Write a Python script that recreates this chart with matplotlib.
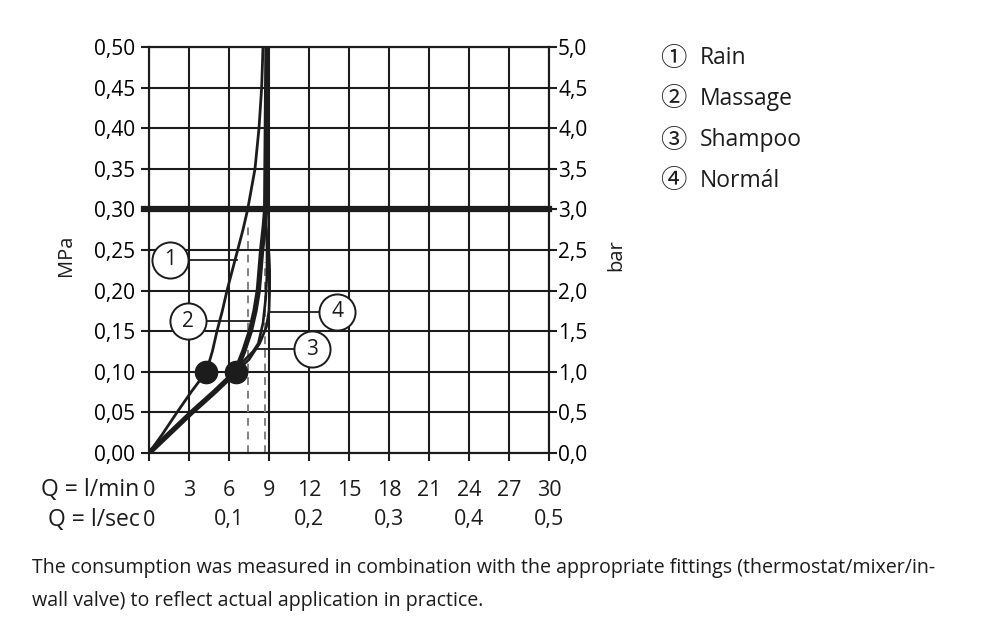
import matplotlib.pyplot as plt
import matplotlib.transforms as mtransforms

plt.rcParams['font.family'] = ['Open Sans', 'DejaVu Sans']

# axis ticks
flow_ticks = [0, 3, 6, 9, 12, 15, 18, 21, 24, 27, 30]
sec_ticks = [0, 6, 12, 18, 24, 30]
sec_labels = ['0', '0,1', '0,2', '0,3', '0,4', '0,5']
mpa_ticks = [0.00, 0.05, 0.10, 0.15, 0.20, 0.25, 0.30, 0.35, 0.40, 0.45, 0.50]
bar_ticks = [0.0, 0.5, 1.0, 1.5, 2.0, 2.5, 3.0, 3.5, 4.0, 4.5, 5.0]

# curves (flow l/min, pressure MPa)
rain_q = [0, 1.0, 2.1, 3.2, 4.3, 4.75, 5.1, 5.5, 5.85, 6.25, 6.65, 7.05, 7.4, 7.95, 8.25, 8.45, 8.55]
rain_p = [0, 0.023, 0.05, 0.076, 0.10, 0.125, 0.15, 0.175, 0.20, 0.225, 0.25, 0.275, 0.30, 0.35, 0.40, 0.45, 0.50]

massage_q = [0, 1.6, 3.2, 4.9, 6.5, 7.1, 7.6, 7.95, 8.2, 8.45, 8.65, 8.75, 8.8, 8.85]
massage_p = [0, 0.025, 0.05, 0.075, 0.10, 0.125, 0.15, 0.175, 0.20, 0.25, 0.28, 0.30, 0.40, 0.50]

shampoo_q = [6.6, 7.2, 7.8, 8.2, 8.55, 8.75, 8.85, 8.85, 8.8, 8.75]
shampoo_p = [0.105, 0.115, 0.125, 0.135, 0.16, 0.19, 0.22, 0.25, 0.28, 0.30]

normal_q = [6.5, 7.5, 8.3, 8.8, 9.0, 9.05, 9.05, 9.0, 8.85, 8.75]
normal_p = [0.10, 0.115, 0.135, 0.155, 0.175, 0.20, 0.225, 0.245, 0.265, 0.28]

# operating points at 0.1 MPa
dot_q = [4.3, 6.5]
dot_p = [0.10, 0.10]

# dashed reference lines
dash_q = [7.4, 8.7]
dash_top = [0.28, 0.235]

# curve number labels: circle position, leader target
lab_text = ['1', '2', '3', '4']
lab_q = [1.6, 2.9, 12.2, 14.1]
lab_p = [0.238, 0.162, 0.128, 0.174]
lab_target = [6.6, 7.55, 8.15, 9.0]

legend_marks = ['①', '②', '③', '④']
legend_names = ['Rain', 'Massage', 'Shampoo', 'Normál']

ink = '#1c1c1c'

fig = plt.figure(figsize=(10, 6.38), dpi=100)
ax = fig.add_axes([0.149, 0.29, 0.4, 0.6364])

ax.set_xlim(0, 30)
ax.set_ylim(0, 0.5)
ax.set_xticks(flow_ticks)
ax.set_xticklabels([])
ax.set_yticks(mpa_ticks)
ax.set_yticklabels([f'{v:.2f}'.replace('.', ',') for v in mpa_ticks], fontsize=15)
ax.grid(True, color=ink, lw=1.5)
ax.tick_params(direction='out', length=6, width=1.5, color=ink, pad=4)
for s in ax.spines.values():
    s.set_linewidth(1.5)
    s.set_color(ink)

ax2 = ax.twinx()
ax2.set_ylim(0, 5)
ax2.set_yticks(bar_ticks)
ax2.set_yticklabels([f'{v:.1f}'.replace('.', ',') for v in bar_ticks], fontsize=15)
ax2.tick_params(direction='out', length=6, width=1.5, color=ink, pad=0.5)
for s in ax2.spines.values():
    s.set_linewidth(1.5)
    s.set_color(ink)

# 0.3 MPa line
ax.axhline(0.3, xmin=-0.012, xmax=1.0, lw=4.5, color=ink, clip_on=False, zorder=3)

for q, top in zip(dash_q, dash_top):
    ax.plot([q, q], [0, top], ls=(0, (4, 3)), color='#808080', lw=1.4, zorder=3)

ax.plot(rain_q, rain_p, color=ink, lw=2.0, zorder=4, solid_capstyle='round')
ax.plot(normal_q, normal_p, color=ink, lw=1.9, zorder=4)
ax.plot(shampoo_q, shampoo_p, color=ink, lw=1.9, zorder=4)
ax.plot(massage_q, massage_p, color=ink, lw=3.8, zorder=5, solid_capstyle='round')
ax.plot(dot_q, dot_p, 'o', color=ink, ms=16, zorder=6)

for t, q, p, tq in zip(lab_text, lab_q, lab_p, lab_target):
    ax.plot([q, tq], [p, p], color=ink, lw=1.3, zorder=6)
    ax.plot(q, p, 'o', ms=26, mfc='white', mec=ink, mew=1.4, zorder=7)
    ax.text(q, p, t, ha='center', va='center', fontsize=15, color=ink, zorder=8)

# x labels, two rows
tr = mtransforms.blended_transform_factory(ax.transData, fig.transFigure)
for q in flow_ticks:
    ax.text(q, 1 - 490 / 638, str(q), transform=tr, ha='center', va='center', fontsize=15.5, color=ink)
for q, t in zip(sec_ticks, sec_labels):
    ax.text(q, 1 - 520 / 638, t, transform=tr, ha='center', va='center', fontsize=15.5, color=ink)
fig.text(0.1395, 1 - 490 / 638, 'Q = l/min', ha='right', va='center', fontsize=16.5, color=ink)
fig.text(0.1395, 1 - 520 / 638, 'Q = l/sec', ha='right', va='center', fontsize=16.5, color=ink)

fig.text(0.066, 1 - 255 / 638, 'MPa', rotation=90, ha='center', va='center', fontsize=14.5, color=ink)
fig.text(0.616, 1 - 255 / 638, 'bar', rotation=90, ha='center', va='center', fontsize=14.5, color=ink)

for i, (m, name) in enumerate(zip(legend_marks, legend_names)):
    y = 1 - (58 + 41 * i) / 638
    fig.text(0.660, y, m, ha='left', va='center', fontsize=19,
             family=['Noto Sans CJK SC', 'DejaVu Sans'], color=ink)
    fig.text(0.700, y, name, ha='left', va='center', fontsize=16.5, color=ink)

fig.text(0.032, 1 - 568 / 638,
         'The consumption was measured in combination with the appropriate fittings (thermostat/mixer/in-',
         ha='left', va='center', fontsize=14.1, color=ink)
fig.text(0.032, 1 - 601 / 638,
         'wall valve) to reflect actual application in practice.',
         ha='left', va='center', fontsize=14.1, color=ink)

fig.savefig('out.png', dpi=100, facecolor='white')
